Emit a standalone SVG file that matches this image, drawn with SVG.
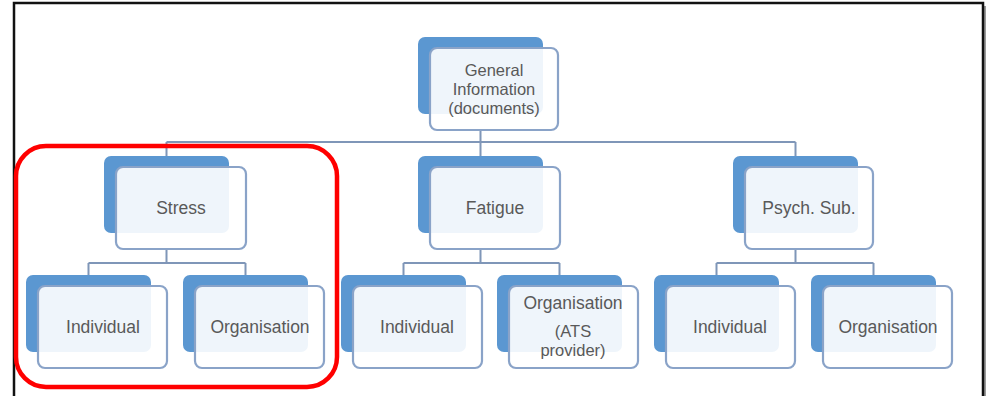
<svg xmlns="http://www.w3.org/2000/svg" width="986" height="396" viewBox="0 0 986 396">
<defs>
<style>
.back{fill:#5b97d1}
.front{fill:#ffffff;fill-opacity:0.9;stroke:#8aa3c8;stroke-width:2.2}
.lbl{font-family:"Liberation Sans",Arial,sans-serif;font-size:17.5px;fill:#595959;text-anchor:middle}
.sm{font-size:16.5px}
.conn{fill:none;stroke:#7f96b8;stroke-width:2}
</style>
</defs>
<rect x="0" y="0" width="986" height="396" fill="#ffffff"/>
<rect x="983" y="6" width="3" height="396" fill="#9a9a9a"/>
<rect x="14" y="3" width="969" height="420" fill="none" stroke="#111" stroke-width="2.5"/>
<g id="connectors">
<path class="conn" d="M480.5 130V142M166.5 142H795.5M166.5 142V156M480.5 142V156M795.5 142V156"/>
<path class="conn" d="M166.5 249V263M88.5 263H245.5M88.5 263V275M245.5 263V275"/>
<path class="conn" d="M480.5 249V263M403.5 263H559.5M403.5 263V275M559.5 263V275"/>
<path class="conn" d="M795.5 249V263M716.5 263H873.5M716.5 263V275M873.5 263V275"/>
</g>
<g id="general">
<rect class="back" x="418" y="37" width="125" height="77" rx="7"/>
<rect class="front" x="430" y="48" width="128" height="82" rx="7"/>
<text class="lbl sm" x="494" y="76">General</text>
<text class="lbl sm" x="494" y="95">Information</text>
<text class="lbl sm" x="494" y="114">(documents)</text>
</g>
<g id="stress">
<rect class="back" x="104" y="156" width="125" height="77" rx="7"/>
<rect class="front" x="116" y="167" width="130" height="82" rx="7"/>
<text class="lbl" x="181" y="214">Stress</text>
</g>
<g id="fatigue">
<rect class="back" x="418" y="156" width="125" height="77" rx="7"/>
<rect class="front" x="430" y="167" width="130" height="82" rx="7"/>
<text class="lbl" x="495" y="214">Fatigue</text>
</g>
<g id="psych">
<rect class="back" x="733" y="156" width="125" height="77" rx="7"/>
<rect class="front" x="745" y="167" width="128" height="82" rx="7"/>
<text class="lbl" x="809" y="214">Psych. Sub.</text>
</g>
<g id="stress-individual">
<rect class="back" x="26" y="275" width="125" height="77" rx="7"/>
<rect class="front" x="38" y="286" width="129" height="82" rx="7"/>
<text class="lbl" x="103" y="333">Individual</text>
</g>
<g id="stress-organisation">
<rect class="back" x="183" y="275" width="125" height="77" rx="7"/>
<rect class="front" x="195" y="286" width="129" height="82" rx="7"/>
<text class="lbl" x="260" y="333">Organisation</text>
</g>
<g id="fatigue-individual">
<rect class="back" x="341" y="275" width="125" height="77" rx="7"/>
<rect class="front" x="353" y="286" width="129" height="82" rx="7"/>
<text class="lbl" x="417" y="333">Individual</text>
</g>
<g id="fatigue-organisation">
<rect class="back" x="497" y="275" width="125" height="77" rx="7"/>
<rect class="front" x="509" y="286" width="129" height="82" rx="7"/>
<text class="lbl" x="573" y="309">Organisation</text>
<text class="lbl sm" x="573" y="337">(ATS</text>
<text class="lbl sm" x="573" y="356">provider)</text>
</g>
<g id="psych-individual">
<rect class="back" x="654" y="275" width="125" height="77" rx="7"/>
<rect class="front" x="666" y="286" width="129" height="82" rx="7"/>
<text class="lbl" x="730" y="333">Individual</text>
</g>
<g id="psych-organisation">
<rect class="back" x="811" y="275" width="125" height="77" rx="7"/>
<rect class="front" x="823" y="286" width="129" height="82" rx="7"/>
<text class="lbl" x="888" y="333">Organisation</text>
</g>
<rect id="highlight" x="16" y="146" width="321" height="241" rx="30" fill="none" stroke="#ff0000" stroke-width="4.5"/>
</svg>
